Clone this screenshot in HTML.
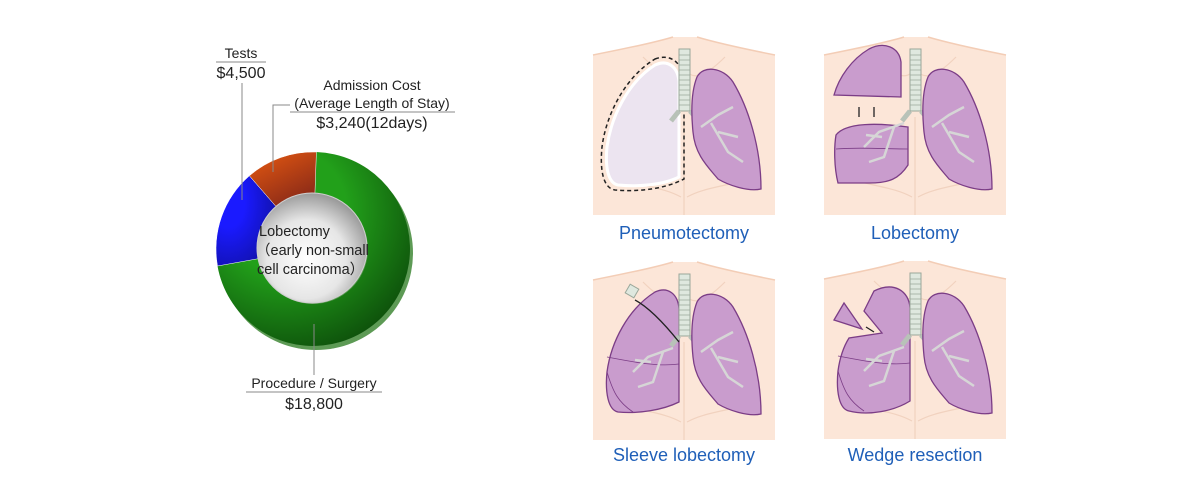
<!DOCTYPE html>
<html><head><meta charset="utf-8"><style>
html,body{margin:0;padding:0;background:#fff}
body{width:1200px;height:500px;overflow:hidden}
svg{display:block}
text{font-family:"Liberation Sans",sans-serif}
</style></head><body>
<svg width="1200" height="500" viewBox="0 0 1200 500" xmlns="http://www.w3.org/2000/svg">
<defs>
<radialGradient id="gGreen" cx="0.35" cy="0.3" r="0.8">
<stop offset="0.4" stop-color="#22a01a"/><stop offset="1" stop-color="#0c4a0a"/></radialGradient>
<radialGradient id="gBlue" cx="0.2" cy="0.3" r="0.9">
<stop offset="0.3" stop-color="#1a1aff"/><stop offset="1" stop-color="#1010a0"/></radialGradient>
<linearGradient id="gOrange" x1="0" y1="0" x2="0.6" y2="1">
<stop offset="0" stop-color="#e85a10"/><stop offset="1" stop-color="#8a2a18"/></linearGradient>
<radialGradient id="gCenter" cx="0.45" cy="0.6" r="0.6">
<stop offset="0" stop-color="#ffffff"/><stop offset="0.6" stop-color="#e6e6e6"/><stop offset="1" stop-color="#9a9a9a"/></radialGradient>
<g id="torso">
<path d="M0,18 C30,12 60,6 80,0 L104,0 C124,6 152,12 182,18 L182,178 L0,178 Z" fill="#fce6d8"/>
<path d="M0,18 C30,12 60,6 80,0 M104,0 C124,6 152,12 182,18" fill="none" stroke="#f3cdb6" stroke-width="1.5"/>
<path d="M50,20 C70,40 85,45 91,30 M132,20 C112,40 98,45 91,30 M91,80 L91,178 M20,140 C50,150 70,150 88,160 M162,140 C132,150 112,150 94,160" fill="none" stroke="#f1d2bf" stroke-width="1.2"/>
</g>
<g id="trachea">
<rect x="86" y="12" width="11" height="62" fill="#dfe8df" stroke="#9aa79a" stroke-width="1"/>
<path d="M86,18h11M86,23h11M86,28h11M86,33h11M86,38h11M86,43h11M86,48h11M86,53h11M86,58h11M86,63h11M86,68h11" stroke="#9aa79a" stroke-width="0.8"/>
<path d="M86,74 L78,84 M97,74 L106,84" stroke="#b8c2b8" stroke-width="5"/>
</g>
<g id="rlung">
<path d="M104,40 C110,28 130,30 140,45 C155,70 168,110 168,152 C155,155 135,148 125,142 C115,130 102,118 100,95 C98,75 98,55 104,40 Z" fill="#c99ccd" stroke="#7b3d86" stroke-width="1.3"/>
<path d="M108,90 L125,78 L140,70 M118,86 L135,115 L150,125 M125,95 L145,100" stroke="#d6d6d6" stroke-width="2.5" fill="none"/>
</g>
<g id="lbranch">
<path d="M80,86 L55,95 L40,110 M70,90 L60,120 L45,125 M58,100 L42,98" stroke="#d6d6d6" stroke-width="2.5" fill="none"/>
</g>
</defs>

<circle cx="316" cy="253" r="97" fill="#5d9a55"/>
<g transform="translate(313,249)">
<path d="M3.4,-97 A97,97 0 1 1 -95.5,17 L-54.2,9.6 A55,55 0 1 0 1.9,-55 Z" fill="url(#gGreen)"/>
<path d="M-95.5,17 A97,97 0 0 1 -63.6,-73.2 L-36.1,-41.5 A55,55 0 0 0 -54.2,9.6 Z" fill="url(#gBlue)" stroke="#ffffff" stroke-width="0.5"/>
<path d="M-63.6,-73.2 A97,97 0 0 1 3.4,-97 L1.9,-55 A55,55 0 0 0 -36.1,-41.5 Z" fill="url(#gOrange)" stroke="#ffffff" stroke-width="0.5"/>
<circle cx="-1" cy="-1" r="55" fill="url(#gCenter)" stroke="#cfcfcf" stroke-width="1"/>
</g>
<text x="259" y="236" font-size="14.5" fill="#222">Lobectomy</text>
<text x="256" y="255" font-size="14.5" fill="#222">（early non-small</text>
<text x="257" y="274" font-size="14.5" fill="#222">cell carcinoma）</text>

<text x="241" y="58" font-size="14" fill="#222" text-anchor="middle">Tests</text>
<line x1="216" y1="62" x2="266" y2="62" stroke="#888" stroke-width="1"/>
<text x="241" y="78" font-size="16" fill="#222" text-anchor="middle">$4,500</text>
<line x1="242" y1="83" x2="242" y2="200" stroke="#888" stroke-width="1"/>

<text x="372" y="90" font-size="14" fill="#222" text-anchor="middle">Admission Cost</text>
<text x="372" y="108" font-size="14" fill="#222" text-anchor="middle">(Average Length of Stay)</text>
<line x1="290" y1="112" x2="455" y2="112" stroke="#888" stroke-width="1"/>
<text x="372" y="128" font-size="16" fill="#222" text-anchor="middle">$3,240(12days)</text>
<path d="M290,105 L273,105 L273,172" fill="none" stroke="#888" stroke-width="1"/>

<line x1="314" y1="324" x2="314" y2="375" stroke="#888" stroke-width="1"/>
<text x="314" y="388" font-size="14" fill="#222" text-anchor="middle">Procedure / Surgery</text>
<line x1="246" y1="392" x2="382" y2="392" stroke="#888" stroke-width="1"/>
<text x="314" y="409" font-size="16" fill="#222" text-anchor="middle">$18,800</text>

<g transform="translate(593,37)">
<use href="#torso"/>
<path d="M62,28 C75,22 85,30 86,45 L86,140 C70,148 45,150 25,148 C15,146 12,130 14,110 C18,80 35,45 62,28 Z" fill="#ece4f0" stroke="#ffffff" stroke-width="3"/>
<path d="M62,22 C78,16 90,26 91,45 L91,142 C72,152 45,155 22,153 C9,151 7,130 9,110 C13,78 32,40 62,22 Z" fill="none" stroke="#222" stroke-width="1.5" stroke-dasharray="4,3"/>
<use href="#trachea"/>
<use href="#rlung"/>
</g>
<text x="684" y="239" font-size="18" fill="#1f5fb8" text-anchor="middle">Pneumotectomy</text>

<g transform="translate(824,37)">
<use href="#torso"/>
<path d="M12,98 C22,85 55,86 84,90 L84,128 C75,142 65,146 45,146 L14,146 C10,130 10,110 12,98 Z" fill="#c99ccd" stroke="#7b3d86" stroke-width="1.3"/>
<path d="M12,112 C35,110 60,112 84,112" fill="none" stroke="#7b3d86" stroke-width="0.8"/>
<path d="M45,12 C60,4 75,10 77,25 L77,60 L10,58 C15,40 28,22 45,12 Z" fill="#c99ccd" stroke="#7b3d86" stroke-width="1.3"/>
<path d="M35,80 L35,70 M50,80 L50,70" stroke="#222" stroke-width="1.3"/>
<use href="#trachea"/>
<use href="#lbranch"/>
<use href="#rlung"/>
</g>
<text x="915" y="239" font-size="18" fill="#1f5fb8" text-anchor="middle">Lobectomy</text>

<g transform="translate(593,262)">
<use href="#torso"/>
<path d="M62,30 C75,24 85,32 86,47 L86,140 C70,148 45,152 25,150 C15,148 12,130 14,110 C18,80 35,47 62,30 Z" fill="#c99ccd" stroke="#7b3d86" stroke-width="1.3"/>
<path d="M14,95 C40,100 65,105 86,102 M14,110 C20,130 25,140 40,150" fill="none" stroke="#7b3d86" stroke-width="0.8"/>
<use href="#trachea"/>
<use href="#lbranch"/>
<use href="#rlung"/>
<rect x="34" y="24" width="10" height="10" fill="#dfe8df" stroke="#9aa79a" transform="rotate(30 39 29)"/>
<path d="M86,80 C70,60 55,45 42,38" fill="none" stroke="#222" stroke-width="1.3"/>
</g>
<text x="684" y="461" font-size="18" fill="#1f5fb8" text-anchor="middle">Sleeve lobectomy</text>

<g transform="translate(824,261)">
<use href="#torso"/>
<path d="M50,30 C70,20 85,30 86,47 L86,140 C70,150 45,155 25,150 C15,148 12,130 14,110 C16,95 20,85 25,77 L58,72 L40,50 Z" fill="#c99ccd" stroke="#7b3d86" stroke-width="1.3"/>
<path d="M14,95 C40,100 65,105 86,102 M14,110 C20,130 25,140 40,150" fill="none" stroke="#7b3d86" stroke-width="0.8"/>
<path d="M10,59 L20,42 L38,68 Z" fill="#c99ccd" stroke="#7b3d86" stroke-width="1.3"/>
<path d="M42,66 L50,71" stroke="#222" stroke-width="1.3"/>
<use href="#trachea"/>
<use href="#lbranch"/>
<use href="#rlung"/>
</g>
<text x="915" y="461" font-size="18" fill="#1f5fb8" text-anchor="middle">Wedge resection</text>
</svg>
</body></html>
